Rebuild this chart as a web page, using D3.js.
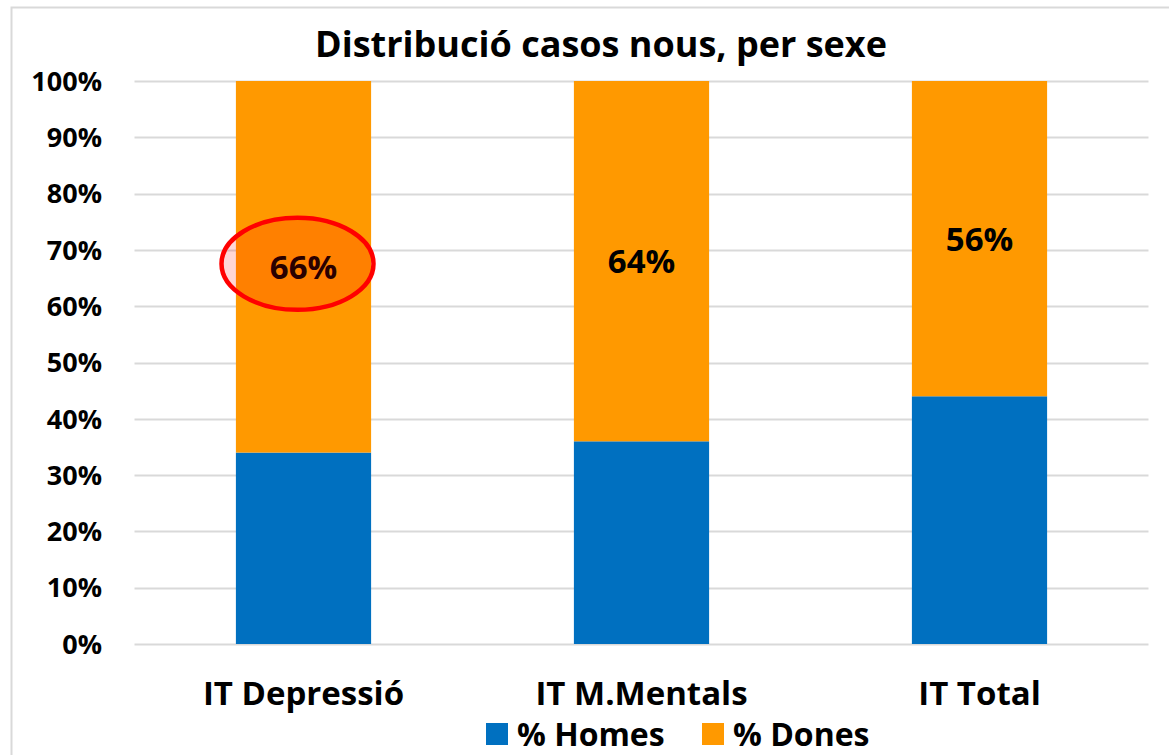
<!DOCTYPE html>
<html>
<head>
<meta charset="utf-8">
<script src="https://cdn.jsdelivr.net/npm/d3@7"></script>
<style>
  body { margin: 0; background: #fff; }
  text { font-family: "Open Sans", Lato, sans-serif; font-weight: bold; }
</style>
</head>
<body>
<script>
// data
var categories = ["IT Depressió", "IT M.Mentals", "IT Total"];
var homes = [34, 36, 44];
var dones = [66, 64, 56];
var seriesNames = ["% Homes", "% Dones"];
var seriesColors = ["#0070C0", "#FF9900"];
var yTicks = [0, 10, 20, 30, 40, 50, 60, 70, 80, 90, 100];

var W = 1169, H = 755;
var svg = d3.select("body").append("svg")
  .attr("width", W).attr("height", H);

// chart frame
svg.append("rect")
  .attr("x", 11.5).attr("y", 7.5)
  .attr("width", W + 20).attr("height", H + 20)
  .attr("fill", "#fff").attr("stroke", "#d9d9d9").attr("stroke-width", 2);

var plotL = 134.5, plotR = 1148.5, plotT = 81, plotB = 644;

var x = d3.scaleBand().domain(categories).range([plotL, plotR]).paddingInner(0.6).paddingOuter(0.3);
var y = d3.scaleLinear().domain([0, 100]).range([plotB, plotT]);

// gridlines
svg.append("g").selectAll("line").data(yTicks).join("line")
  .attr("x1", plotL).attr("x2", plotR)
  .attr("y1", function(d) { return Math.round(y(d)) + 0.5; })
  .attr("y2", function(d) { return Math.round(y(d)) + 0.5; })
  .attr("stroke", "#d9d9d9").attr("stroke-width", 2);

// y axis labels
svg.append("g").selectAll("text").data(yTicks).join("text")
  .attr("x", 102).attr("y", function(d) { return y(d); })
  .attr("dy", "0.36em").attr("text-anchor", "end")
  .attr("font-size", 27).attr("fill", "#000")
  .text(function(d) { return d + "%"; });

// stacked data
var rows = categories.map(function(c, i) { return { cat: c, h: homes[i], d: dones[i] }; });
var stack = d3.stack().keys(["h", "d"])(rows);

svg.append("g").selectAll("g").data(stack).join("g")
  .attr("fill", function(s, i) { return seriesColors[i]; })
  .selectAll("rect").data(function(s) { return s; }).join("rect")
  .attr("x", function(d) { return x(d.data.cat); })
  .attr("width", x.bandwidth())
  .attr("y", function(d) { return y(d[1]); })
  .attr("height", function(d) { return y(d[0]) - y(d[1]); });

// value labels on Dones segment
svg.append("g").selectAll("text").data(stack[1]).join("text")
  .attr("x", function(d) { return x(d.data.cat) + x.bandwidth() / 2; })
  .attr("y", function(d) { return (y(d[0]) + y(d[1])) / 2; })
  .attr("dy", "0.36em").attr("text-anchor", "middle")
  .attr("font-size", 33).attr("fill", "#000")
  .text(function(d) { return d.data.d + "%"; });

// highlight ellipse on first bar
var first = stack[1][0];
svg.append("ellipse")
  .attr("cx", x(categories[0]) + x.bandwidth() / 2 - 6)
  .attr("cy", (y(first[0]) + y(first[1])) / 2 - 3)
  .attr("rx", 76).attr("ry", 46)
  .attr("fill", "rgba(255,0,0,0.16)")
  .attr("stroke", "#ff0000").attr("stroke-width", 4.5);

// category labels
svg.append("g").selectAll("text").data(categories).join("text")
  .attr("x", function(d) { return x(d) + x.bandwidth() / 2; })
  .attr("y", 705)
  .attr("text-anchor", "middle")
  .attr("font-size", 33).attr("fill", "#000")
  .text(function(d) { return d; });

// title
svg.append("text")
  .attr("x", 601).attr("y", 57)
  .attr("text-anchor", "middle")
  .attr("font-size", 36).attr("fill", "#000")
  .text("Distribució casos nous, per sexe");

// legend
var legendX = [486, 702];
var lg = svg.append("g").selectAll("g").data(seriesNames).join("g")
  .attr("transform", function(d, i) { return "translate(" + legendX[i] + ",723)"; });
lg.append("rect").attr("width", 22).attr("height", 22)
  .attr("fill", function(d, i) { return seriesColors[i]; });
lg.append("text").attr("x", 31).attr("y", 11).attr("dy", "0.36em")
  .attr("font-size", 32).attr("fill", "#000")
  .text(function(d) { return d; });
</script>
</body>
</html>
